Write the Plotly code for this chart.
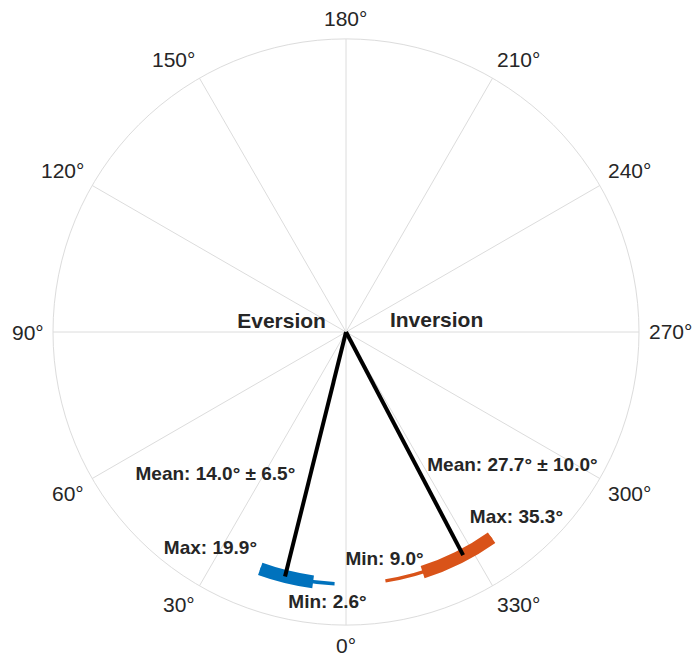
import math
import plotly.graph_objects as go

# Range-of-motion summary per direction (degrees)
directions = ["Eversion", "Inversion"]
mean_deg = [14.0, 27.7]
sd_deg = [6.5, 10.0]
min_deg = [2.6, 9.0]
max_deg = [19.9, 35.3]
side_sign = [1, -1]          # eversion drawn toward 90°, inversion toward 270°
colors = ["#0072BD", "#D95319"]

tick_angles = list(range(0, 360, 30))
tick_labels = [f"{a}°" for a in tick_angles]

# Styling / placement
ARC_R = 0.86
THICK = 0.044
THIN = 0.012
TXT = "#262626"
GRID = "#dcdcdc"
FONT = "Helvetica, Liberation Sans, Arial, sans-serif"
TICK_SIZE = 21
PLOT_PX = 586                # side of the square plotting area
RADIUS_PX = PLOT_PX / 2
TICK_GAP = 9.5
TICK_H = 21

# Label placement (angle, radius)
mean_lbl_pos = [(42.4, 0.661), (-51.2, 0.729)]
max_lbl_pos = [(32.0, 0.873), (-42.5, 0.861)]
min_lbl_pos = [(3.9, 0.927), (-9.6, 0.789)]
side_lbl_pos = [(97.9, 0.222), (263.7, 0.311)]

fig = go.Figure()

for i, name in enumerate(directions):
    s = side_sign[i]
    lo, hi = min_deg[i], max_deg[i]
    band_lo = max(mean_deg[i] - sd_deg[i], lo)
    band_hi = min(mean_deg[i] + sd_deg[i], hi)

    # full range (thin arc)
    fig.add_trace(go.Barpolar(
        theta=[s * (lo + hi) / 2], width=[hi - lo],
        base=[ARC_R - THIN / 2], r=[THIN],
        marker=dict(color=colors[i], line=dict(width=0)),
        showlegend=False, hoverinfo="skip"))
    # mean ± SD within the range (thick arc)
    fig.add_trace(go.Barpolar(
        theta=[s * (band_lo + band_hi) / 2], width=[band_hi - band_lo],
        base=[ARC_R - THICK / 2], r=[THICK],
        marker=dict(color=colors[i], line=dict(width=0)),
        showlegend=False, hoverinfo="skip"))

for i, name in enumerate(directions):
    s = side_sign[i]
    # mean direction line from the origin
    fig.add_trace(go.Scatterpolar(
        r=[0, ARC_R], theta=[s * mean_deg[i], s * mean_deg[i]],
        mode="lines", line=dict(color="black", width=4),
        showlegend=False, hoverinfo="skip"))

    labels = [
        (f"<b>Mean: {mean_deg[i]:.1f}° ± {sd_deg[i]:.1f}°</b>", mean_lbl_pos[i], 19),
        (f"<b>Max: {max_deg[i]:.1f}°</b>", max_lbl_pos[i], 19),
        (f"<b>Min: {min_deg[i]:.1f}°</b>", min_lbl_pos[i], 19),
        (f"<b>{name}</b>", side_lbl_pos[i], 21),
    ]
    for txt, (th, rr), size in labels:
        fig.add_trace(go.Scatterpolar(
            r=[rr], theta=[th], mode="text", text=[txt],
            textposition="middle center",
            textfont=dict(family=FONT, size=size, color=TXT),
            showlegend=False, hoverinfo="skip", cliponaxis=False))


def _sgn(v):
    return 0 if abs(v) < 1e-9 else (1 if v > 0 else -1)


# Angular tick labels: anchored just outside the rim and pushed outward by
# half the label box (left/right on the sides, up/down top and bottom).
annotations = []
for a, lbl in zip(tick_angles, tick_labels):
    w = (len(lbl) - 1) * 0.556 * TICK_SIZE + 0.4 * TICK_SIZE
    t = math.radians(a)
    sx, cy = math.sin(t), math.cos(t)
    # pixel offsets from the centre (x right, y up); 0° at bottom, clockwise
    px = -sx * (RADIUS_PX + TICK_GAP) - _sgn(sx) * w / 2
    py = -cy * (RADIUS_PX + TICK_GAP) - _sgn(cy) * TICK_H / 2
    annotations.append(dict(
        x=0.5 + px / PLOT_PX, y=0.5 + py / PLOT_PX,
        xref="paper", yref="paper", text=lbl, showarrow=False,
        xanchor="center", yanchor="middle",
        font=dict(family=FONT, size=TICK_SIZE, color=TXT)))

fig.update_layout(
    width=694, height=654,
    margin=dict(l=53, r=55, t=39, b=29),
    paper_bgcolor="white",
    font=dict(family=FONT, color=TXT),
    annotations=annotations,
    polar=dict(
        domain=dict(x=[0, 1], y=[0, 1]),
        bgcolor="white",
        barmode="overlay",
        radialaxis=dict(range=[0, 1], visible=False),
        angularaxis=dict(
            rotation=270, direction="clockwise",
            tickmode="array", tickvals=tick_angles,
            showticklabels=False,
            ticks="", showgrid=True, gridcolor=GRID, gridwidth=1,
            showline=True, linecolor=GRID, linewidth=1,
        ),
    ),
)

fig.write_html("out.html")
